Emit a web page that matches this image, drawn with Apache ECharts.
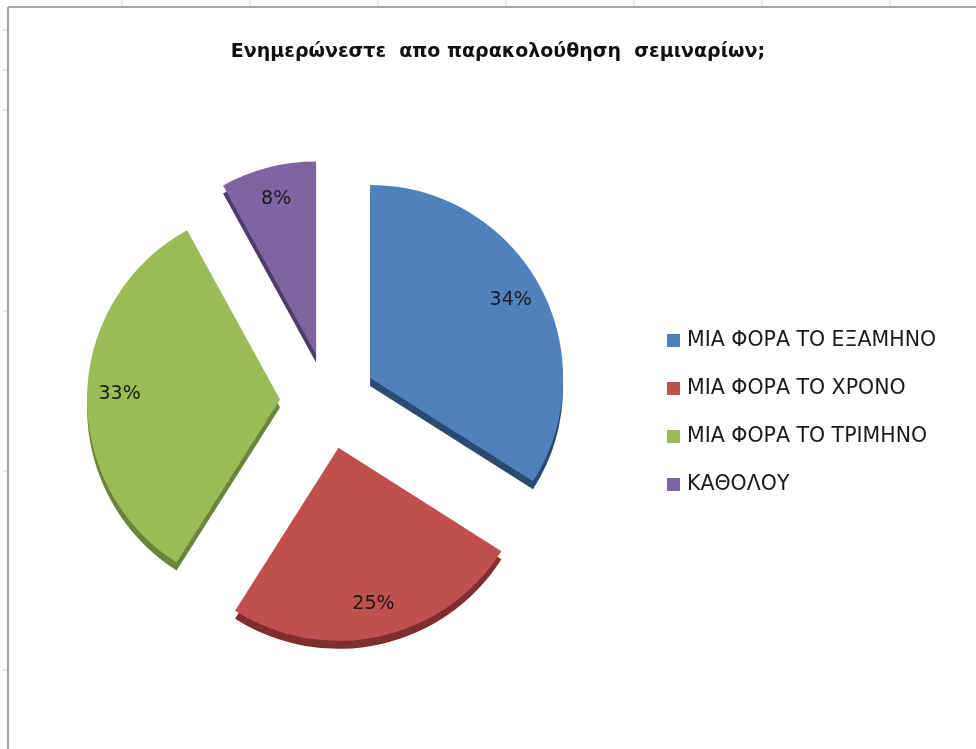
<!DOCTYPE html>
<html>
<head>
<meta charset="utf-8">
<title>Ενημερώνεστε απο παρακολούθηση σεμιναρίων;</title>
<script src="https://cdn.jsdelivr.net/npm/echarts@6/dist/echarts.min.js"></script>
<style>
  html, body { margin: 0; padding: 0; background: #fff; }
  #chart { width: 976px; height: 749px; }
</style>
</head>
<body>
<div id="chart"></div>
<script>
// data
const categories = ['ΜΙΑ ΦΟΡΑ ΤΟ ΕΞΑΜΗΝΟ', 'ΜΙΑ ΦΟΡΑ ΤΟ ΧΡΟΝΟ', 'ΜΙΑ ΦΟΡΑ ΤΟ ΤΡΙΜΗΝΟ', 'ΚΑΘΟΛΟΥ']
const values = [34, 25, 33, 8]
const colors = ['#4F81BD', '#C0504D', '#9BBB59', '#8064A2']
const sideColors = ['#2B4A70', '#7E2F2D', '#6A8539', '#4F3C68']

// sheet gridline marks around the chart frame
const colMarks = [122, 250, 378, 506, 634, 762, 890]
const rowMarks = [30, 70, 110, 311, 471, 670]

const chart = echarts.init(document.getElementById('chart'))

const center = [328, 401]
const radius = 193
const explode = 48
const depth = 8

function slices(palette) {
  return categories.map((name, i) => ({
    name,
    value: values[i],
    selected: true,
    itemStyle: { color: palette ? palette[i] : 'rgba(0,0,0,0)' }
  }))
}

const base = {
  type: 'pie',
  startAngle: 90,
  clockwise: true,
  selectedMode: 'multiple',
  selectedOffset: explode,
  avoidLabelOverlap: false,
  silent: true,
  emphasis: { disabled: true },
  select: { itemStyle: {} },
  labelLine: { show: false }
}

const graphics = [
  { type: 'line', shape: { x1: 8, y1: 7, x2: 976, y2: 7 }, style: { stroke: '#a6a6a6', lineWidth: 2 } },
  { type: 'line', shape: { x1: 8, y1: 7, x2: 8, y2: 749 }, style: { stroke: '#a6a6a6', lineWidth: 2 } }
]
colMarks.forEach(x => graphics.push({ type: 'line', shape: { x1: x, y1: 0, x2: x, y2: 6 }, style: { stroke: '#d4d4d4', lineWidth: 1 } }))
rowMarks.forEach(y => graphics.push({ type: 'line', shape: { x1: 3, y1: y, x2: 7, y2: y }, style: { stroke: '#c8c8c8', lineWidth: 1 } }))

const option = {
  animation: false,
  backgroundColor: '#fff',
  title: {
    text: 'Ενημερώνεστε  απο παρακολούθηση  σεμιναρίων;',
    left: 493,
    textAlign: 'center',
    top: 38,
    textStyle: {
      fontFamily: 'DejaVu Sans',
      fontWeight: 'bold',
      fontSize: 19,
      color: '#111'
    }
  },
  legend: {
    orient: 'vertical',
    left: 662,
    top: 325,
    data: categories,
    icon: 'rect',
    itemWidth: 13,
    itemHeight: 13,
    itemGap: 27,
    selectedMode: false,
    textStyle: {
      fontFamily: 'DejaVu Sans',
      fontSize: 20.5,
      color: '#1a1a1a',
      padding: [0, 0, 0, 2]
    }
  },
  graphic: graphics,
  series: [
    // top faces
    Object.assign({}, base, {
      name: 'top',
      z: 3,
      center: center,
      radius: [0, radius],
      label: { show: false },
      data: slices(colors)
    }),
    // sides, shifted down under the top faces
    Object.assign({}, base, {
      name: 'side',
      z: 2,
      center: [center[0], center[1] + depth],
      radius: [0, radius],
      label: { show: false },
      data: slices(sideColors)
    }),
    // transparent ring that only carries the percent labels
    Object.assign({}, base, {
      name: 'labels',
      z: 4,
      center: center,
      radius: [122, radius],
      label: {
        show: true,
        position: 'inside',
        formatter: p => p.value + '%',
        fontFamily: 'DejaVu Sans',
        fontSize: 19,
        color: '#1a1a1a'
      },
      data: slices(null)
    })
  ]
}

chart.setOption(option)
</script>
</body>
</html>
